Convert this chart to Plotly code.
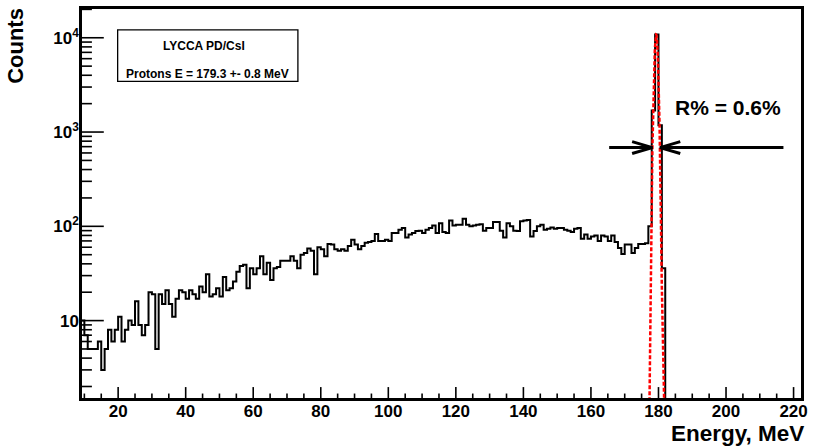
import numpy as np
import plotly.graph_objects as go

# ---------------- data ----------------
bin_start = 9          # first bin low edge, MeV
bin_width = 1          # MeV
counts = [
    10, 7, 5, 5, 5, 6, 3, 5, 8, 6,            # 9-18
    8, 11, 6, 8, 10, 9, 16, 9, 7, 9,          # 19-28
    20, 19, 5, 19, 15, 21, 15, 11, 17, 21,    # 29-38
    20, 17, 21, 19, 17, 23, 20, 31, 18, 19,   # 39-48
    22, 18, 29, 21, 22, 26, 33, 38, 39, 22,   # 49-58
    36, 31, 36, 48, 31, 41, 27, 36, 37, 43,   # 59-68
    43, 43, 48, 43, 36, 50, 52, 58, 55, 31,   # 69-78
    60, 57, 48, 65, 64, 57, 55, 57, 55, 62,   # 79-88
    72, 64, 57, 62, 67, 68, 70, 83, 70, 70,   # 89-98
    72, 70, 85, 85, 92, 96, 76, 82, 85, 89,   # 99-108
    90, 85, 92, 96, 102, 85, 108, 87, 85, 115,  # 109-118
    102, 104, 104, 120, 104, 100, 102, 104, 105, 90,  # 119-128
    96, 96, 111, 111, 90, 76, 108, 100, 90, 89,  # 129-138
    113, 115, 117, 78, 89, 100, 104, 92, 94, 97,  # 139-148
    94, 96, 96, 92, 90, 87, 94, 96, 74, 82,   # 149-158
    74, 78, 80, 70, 80, 78, 70, 80, 68, 59,   # 159-168
    51, 64, 64, 52, 59, 65, 65, 66,           # 169-176
    100, 1690, 10800, 1180, 36,               # 177-181
]

# Gaussian fit drawn in red (parameters)
fit_amplitude = 10800.0
fit_mean = 179.32
fit_sigma = 0.475
fit_range = [176.0, 183.0]

# FWHM-style arrows
arrow_level = 684.0
arrow_left_tail = 165.4
arrow_right_tail = 217.0

x_ticks = [20, 40, 60, 80, 100, 120, 140, 160, 180, 200, 220]
x_minor_step = 5
y_ticks = [10, 100, 1000, 10000]
y_ticktext = ["10", "10<sup>2</sup>", "10<sup>3</sup>", "10<sup>4</sup>"]

legend_line1 = "LYCCA PD/CsI"
legend_line2 = "Protons E = 179.3 +- 0.8 MeV"
resolution_text = "R% = 0.6%"

x_range = [9.3, 222.2]
y_range_log = [0.179, 4.305]

# ---------------- build ----------------
FONT = "Liberation Sans, Arial, sans-serif"
W, H = 814, 446
ML, MR, MT, MB = 82, 6, 6, 48
PW, PH = W - ML - MR, H - MT - MB
px_per_mev = PW / (x_range[1] - x_range[0])
px_per_decade = PH / (y_range_log[1] - y_range_log[0])

def px_to_paper_x(px):
    return (px - ML) / PW

def py_to_paper_y(py):
    return (H - MB - py) / PH

edges = [bin_start + i * bin_width for i in range(len(counts) + 1)]
floor_value = 10 ** (y_range_log[0] - 0.5)
hx = edges[:-1] + [edges[-1]]
hy = counts + [floor_value]

fig = go.Figure()

# ---- inward tick marks (ROOT style): long majors, short minors ----
tx, ty = [], []
y_bottom = 10 ** y_range_log[0]
x_lo = int(np.ceil(x_range[0] / x_minor_step)) * x_minor_step
for v in range(x_lo, int(x_range[1]) + 1, x_minor_step):
    L = 11 if v in x_ticks else 4.5
    tx += [v, v, None]
    ty += [y_bottom, 10 ** (y_range_log[0] + L / px_per_decade), None]
for d in range(0, 5):
    for m in range(1, 10):
        v = m * 10 ** d
        lv = np.log10(v)
        if lv < y_range_log[0] or lv > y_range_log[1]:
            continue
        L = 22 if m == 1 else 10
        tx += [x_range[0], x_range[0] + L / px_per_mev, None]
        ty += [v, v, None]
fig.add_trace(go.Scatter(
    x=tx, y=ty, mode="lines", line=dict(color="black", width=1.6),
    hoverinfo="skip", showlegend=False))

fig.add_trace(go.Scatter(
    x=hx, y=hy, mode="lines", line=dict(color="black", width=2, shape="hv"),
    hoverinfo="skip", showlegend=False))

fx = np.linspace(fit_range[0], fit_range[1], 600)
fy = fit_amplitude * np.exp(-0.5 * ((fx - fit_mean) / fit_sigma) ** 2)
fy = np.maximum(fy, floor_value)
fig.add_trace(go.Scatter(
    x=fx, y=fy, mode="lines", line=dict(color="#ff0000", width=2.5, dash="4px,2px"),
    hoverinfo="skip", showlegend=False))

# arrows: tips on the fitted curve at arrow_level
half = fit_sigma * np.sqrt(2 * np.log(fit_amplitude / arrow_level))
tip_l, tip_r = fit_mean - half, fit_mean + half
head_len = 20.5 / px_per_mev
head_k = 10 ** (6.0 / px_per_decade)
ax_x, ax_y = [], []
ax_x += [arrow_left_tail, tip_l, None]
ax_y += [arrow_level, arrow_level, None]
ax_x += [tip_l - head_len, tip_l, tip_l - head_len, None]
ax_y += [arrow_level * head_k, arrow_level, arrow_level / head_k, None]
ax_x += [arrow_right_tail, tip_r, None]
ax_y += [arrow_level, arrow_level, None]
ax_x += [tip_r + head_len, tip_r, tip_r + head_len]
ax_y += [arrow_level * head_k, arrow_level, arrow_level / head_k]
fig.add_trace(go.Scatter(
    x=ax_x, y=ax_y, mode="lines", line=dict(color="black", width=3),
    hoverinfo="skip", showlegend=False))

fig.update_layout(
    width=W, height=H,
    margin=dict(l=ML, r=MR, t=MT, b=MB),
    paper_bgcolor="white", plot_bgcolor="white",
    showlegend=False,
    font=dict(family=FONT, color="black"),
    xaxis=dict(
        range=x_range, showgrid=False, zeroline=False,
        showline=True, mirror=True, linecolor="black", linewidth=2.5,
        tickmode="array", tickvals=x_ticks, ticks="", ticklabelstandoff=-4,
        tickfont=dict(family=FONT, size=17, color="black", weight="bold"),
    ),
    yaxis=dict(
        type="log", range=y_range_log, showgrid=False, zeroline=False,
        showline=True, mirror=True, linecolor="black", linewidth=2.5,
        tickmode="array", tickvals=y_ticks, ticktext=y_ticktext, ticks="",
        ticklabelstandoff=-3,
        tickfont=dict(family=FONT, size=17, color="black", weight="bold"),
    ),
)

# legend box
fig.add_shape(type="rect", xref="paper", yref="paper",
              x0=px_to_paper_x(118), x1=px_to_paper_x(300),
              y0=py_to_paper_y(79), y1=py_to_paper_y(27),
              line=dict(color="black", width=1.3), fillcolor="white", layer="above")

annots = [
    dict(text=legend_line1, x=px_to_paper_x(205), y=py_to_paper_y(43.5),
         xanchor="center", yanchor="middle", font=dict(size=12)),
    dict(text=legend_line2, x=px_to_paper_x(209), y=py_to_paper_y(71),
         xanchor="center", yanchor="middle", font=dict(size=12)),
    dict(text="Energy, MeV", x=px_to_paper_x(813), y=py_to_paper_y(434),
         xanchor="right", yanchor="middle", font=dict(size=22.5)),
    dict(text="Counts", x=px_to_paper_x(15), y=py_to_paper_y(43.5),
         xanchor="center", yanchor="middle", textangle=-90, font=dict(size=22)),
]
for a in annots:
    a["font"].update(family=FONT, color="black", weight="bold")
    fig.add_annotation(xref="paper", yref="paper", showarrow=False, **a)

fig.add_annotation(text=resolution_text, xref="x", yref="paper",
                   x=arrow_right_tail, y=py_to_paper_y(105),
                   xanchor="right", yanchor="middle", showarrow=False,
                   font=dict(family=FONT, size=21, color="black", weight="bold"))

fig.write_html("out.html")
